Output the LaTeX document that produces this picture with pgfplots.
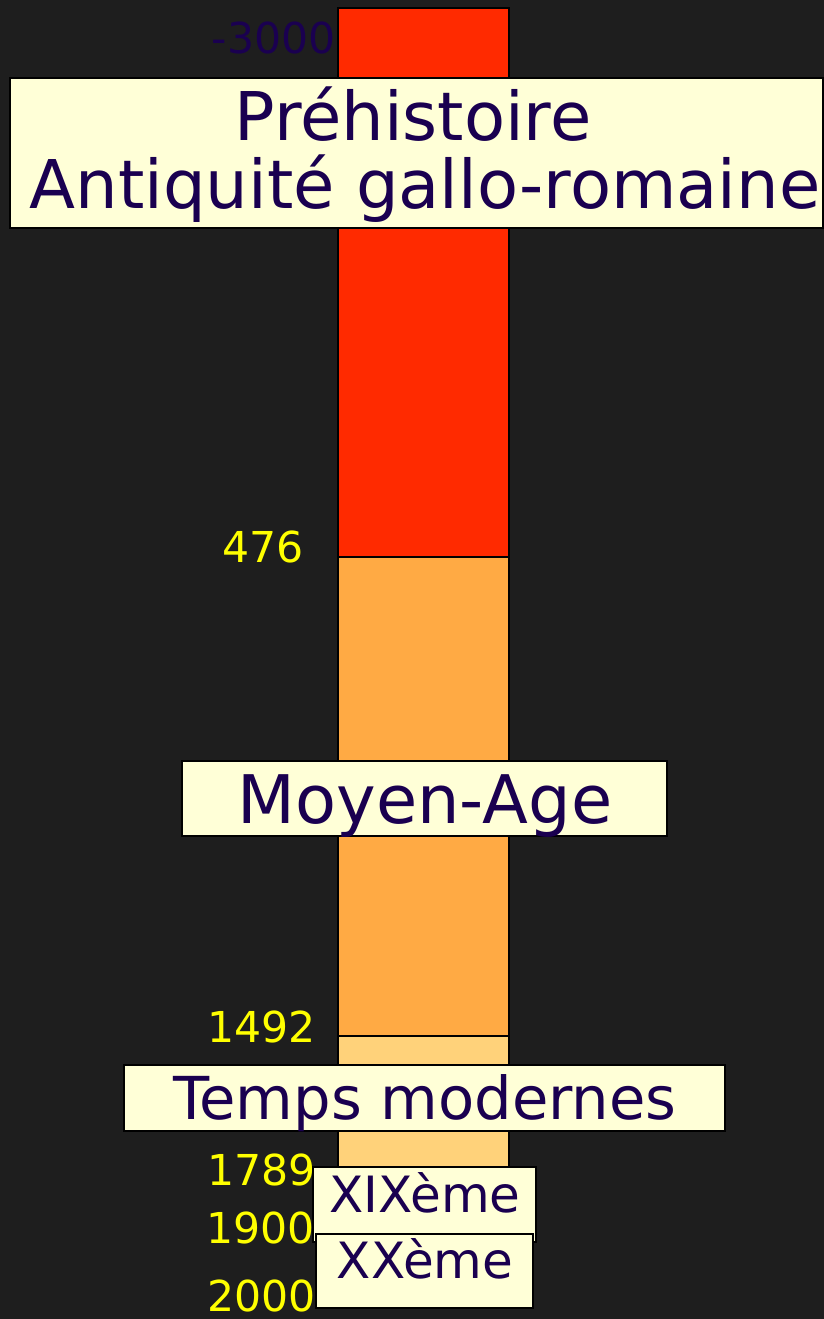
\documentclass[border=0pt]{standalone}
\usepackage{fontspec}
\setmainfont{DejaVu Sans}
\usepackage{pgfplots}
\pgfplotsset{compat=1.18}
\definecolor{bg}{HTML}{1E1E1E}
\definecolor{seg1}{HTML}{FF2A00}
\definecolor{seg2}{HTML}{FFAA44}
\definecolor{seg3}{HTML}{FFD27A}
\definecolor{boxfill}{HTML}{FFFFD7}
\definecolor{txt}{HTML}{1A0050}
\definecolor{yr}{HTML}{FFFF00}
\tikzset{
  yl/.style={anchor=base east, inner sep=0pt, font=\fontsize{21.3}{23}\selectfont},
  bx/.style={draw=black, fill=boxfill, line width=0.8pt, inner sep=0pt},
  bt/.style={anchor=base, inner sep=0pt, text=txt},
}
\begin{document}
\begin{tikzpicture}
\begin{axis}[
  scale only axis, width=412pt, height=659.5pt,
  xmin=0, xmax=824, ymin=0, ymax=1319, y dir=reverse,
  axis line style={draw=none}, ticks=none,
  axis background/.style={fill=bg},
  clip=false,
]
% periods (y in picture units: -3000 | 476 | 1492 | end)
\addplot[fill=seg1, draw=black, line width=0.8pt] coordinates {(338,8) (509,8) (509,557) (338,557)} -- cycle;
\addplot[fill=seg2, draw=black, line width=0.8pt] coordinates {(338,557) (509,557) (509,1036) (338,1036)} -- cycle;
\addplot[fill=seg3, draw=black, line width=0.8pt] coordinates {(338,1036) (509,1036) (509,1300) (338,1300)} -- cycle;
% year labels
\node[yl, text=txt] at (axis cs:336,53) {-3000};
\node[yl, text=yr] at (axis cs:304,562) {476};
\node[yl, text=yr] at (axis cs:316,1042) {1492};
\node[yl, text=yr] at (axis cs:316,1185) {1789};
\node[yl, text=yr] at (axis cs:315,1243) {1900};
\node[yl, text=yr] at (axis cs:316,1311) {2000};
% boxes
\node[bx, minimum width=406.5pt, minimum height=75pt] at (axis cs:416.5,153) {};
\node[bt, font=\fontsize{33.6}{36}\selectfont] at (axis cs:413,140) {Préhistoire};
\node[bt, font=\fontsize{33.6}{36}\selectfont] at (axis cs:425,208) {Antiquité gallo-romaine};
\node[bx, minimum width=242.5pt, minimum height=37.5pt] at (axis cs:424.5,798.5) {};
\node[bt, font=\fontsize{33.5}{35}\selectfont] at (axis cs:425,823) {Moyen-Age};
\node[bx, minimum width=300.5pt, minimum height=33pt] at (axis cs:424.5,1098) {};
\node[bt, font=\fontsize{29.6}{31}\selectfont] at (axis cs:425,1119) {Temps modernes};
\node[bx, minimum width=111.5pt, minimum height=37.5pt] at (axis cs:424.5,1204.5) {};
\node[bt, font=\fontsize{25}{27}\selectfont] at (axis cs:425,1212) {XIXème};
\node[bx, minimum width=108.5pt, minimum height=37pt] at (axis cs:424.5,1271) {};
\node[bt, font=\fontsize{25}{27}\selectfont] at (axis cs:425,1278) {XXème};
\end{axis}
\pgfresetboundingbox
\path[use as bounding box] (current axis.south west) rectangle (current axis.north east);
\end{tikzpicture}
\end{document}
